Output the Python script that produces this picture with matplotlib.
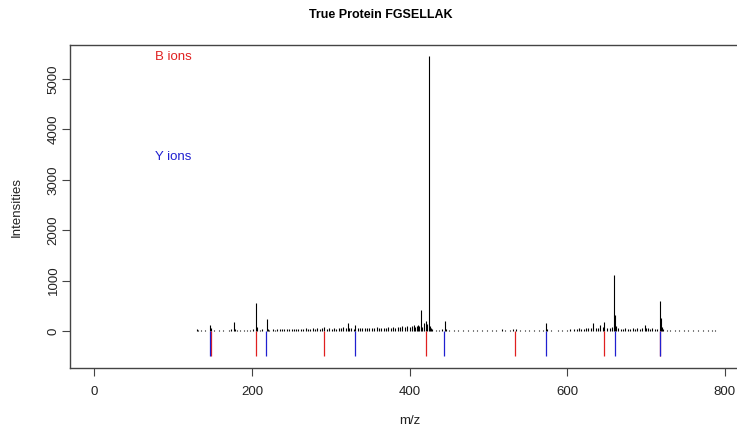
import matplotlib
matplotlib.use("Agg")
import matplotlib.pyplot as plt

plt.rcParams['font.family'] = ['Liberation Sans', 'DejaVu Sans']

# spectrum peaks (m/z, intensity)
mz = [130.1, 131.2, 136.0, 140.5, 147.1, 148.1, 152.3, 158.0, 163.2, 170.4,
      173.1, 177.1, 178.2, 181.0, 185.5, 190.3, 194.0, 197.2, 201.1, 205.1,
      206.1, 210.0, 213.2, 219.2, 220.2, 222.0, 226.3, 229.1, 232.0, 235.2,
      238.1, 241.0, 244.2, 247.1, 250.3, 253.0, 256.2, 259.1, 262.0, 265.3,
      268.1, 271.0, 274.2, 277.1, 280.0, 283.2, 286.1, 289.0, 292.1, 295.2,
      298.0, 301.1, 304.2, 307.0, 310.1, 313.2, 316.0, 319.1, 322.2, 323.1,
      326.0, 329.2, 331.2, 334.1, 337.0, 340.2, 343.1, 346.0, 349.2, 352.1,
      355.0, 358.2, 361.1, 364.0, 367.2, 370.1, 373.0, 376.2, 379.1, 382.0,
      385.2, 388.1, 391.0, 394.2, 397.1, 400.0, 403.2, 405.1, 407.0, 409.2,
      411.1, 412.2, 414.6, 416.1, 418.2, 420.3, 422.1, 424.5, 425.5, 427.0,
      429.1, 433.0, 437.2, 441.0, 444.7, 445.8, 450.0, 456.1, 462.0, 468.2,
      474.1, 480.0, 486.2, 492.1, 498.0, 504.2, 510.0, 517.1, 521.1, 527.0,
      531.2, 535.1, 540.0, 546.2, 552.1, 558.0, 564.2, 569.1, 573.3, 574.3,
      580.0, 588.2, 594.1, 600.0, 604.2, 608.1, 612.0, 615.2, 618.1, 621.0,
      624.2, 627.1, 630.0, 633.2, 636.1, 639.0, 642.2, 645.1, 647.3, 651.0,
      654.2, 657.1, 659.7, 660.7, 662.3, 665.0, 668.2, 671.1, 674.0, 677.2,
      680.1, 683.0, 686.2, 689.1, 692.0, 695.2, 699.0, 700.1, 702.2, 705.1,
      708.0, 711.2, 714.1, 717.6, 718.6, 720.3, 722.0, 726.2, 731.1, 737.0,
      742.2, 748.1, 754.0, 760.2, 766.1, 772.0, 778.2, 784.1, 788.0]
intensity = [35, 20, 8, 10, 110, 60, 12, 15, 10, 18,
             45, 180, 40, 12, 20, 15, 22, 12, 30, 560,
             70, 25, 30, 230, 40, 20, 30, 25, 35, 28,
             40, 30, 35, 45, 30, 40, 35, 45, 40, 35,
             50, 45, 40, 55, 40, 60, 45, 50, 70, 45,
             55, 40, 60, 45, 55, 50, 80, 60, 160, 60,
             50, 45, 120, 50, 55, 60, 50, 65, 55, 60,
             50, 70, 55, 60, 65, 55, 70, 60, 75, 65,
             80, 70, 90, 75, 100, 85, 90, 120, 80, 100,
             110, 90, 420, 80, 150, 200, 130, 5450, 90, 60,
             30, 20, 25, 30, 200, 40, 20, 25, 18, 25,
             20, 22, 18, 25, 15, 20, 20, 40, 18, 20,
             40, 30, 18, 20, 25, 15, 20, 18, 160, 40,
             15, 20, 18, 25, 30, 35, 40, 50, 45, 40,
             50, 55, 60, 150, 50, 60, 110, 70, 185, 60,
             50, 70, 1110, 320, 90, 50, 45, 40, 50, 40,
             45, 50, 45, 55, 40, 60, 120, 60, 50, 45,
             50, 40, 45, 600, 260, 80, 30, 25, 20, 22,
             18, 20, 15, 18, 15, 20, 15, 18, 15]

# theoretical fragment ions for FGSELLAK
b_ions = [148.08, 205.10, 292.13, 421.17, 534.26, 647.34, 718.38]
y_ions = [147.11, 218.15, 331.23, 444.31, 573.36, 660.39, 717.41]

W, H = 737, 434
fig = plt.figure(figsize=(W / 100, H / 100), dpi=100)
ax = fig.add_axes([70 / W, 1 - 368 / H, (745 - 70) / W, (368 - 44.5) / H])

ax.vlines(mz, 0, intensity, color='black', linewidth=0.8)
ax.vlines(b_ions, -500, 0, color='#e02020', linewidth=0.9)
ax.vlines(y_ions, -500, 0, color='#2020d0', linewidth=0.9)

ax.text(100, 5440, 'B ions', color='#e02020', fontsize=9.5, ha='center', va='center')
ax.text(100, 3450, 'Y ions', color='#2020d0', fontsize=9.5, ha='center', va='center')

ax.set_xlim(-30.8, 825.7)
ax.set_ylim(-738, 5688)
ax.set_xticks([0, 200, 400, 600, 800])
ax.set_yticks([0, 1000, 2000, 3000, 4000, 5000])
ax.tick_params(axis='both', direction='out', length=6, width=0.8,
               color='#444444', labelsize=9.5, labelcolor='#222222')
ax.tick_params(axis='x', pad=7)
ax.tick_params(axis='y', pad=1.5)
for lab in ax.get_yticklabels():
    lab.set_rotation(90)
    lab.set_va('center')
for sp in ax.spines.values():
    sp.set_color('#444444')
    sp.set_linewidth(1.0)

fig.text(381 / W, 1 - 15 / H, 'True Protein FGSELLAK', ha='center', va='center',
         fontsize=9, fontweight='bold')
fig.text(410 / W, 1 - 421 / H, 'm/z', ha='center', va='center', fontsize=9.5,
         color='#222222')
fig.text(17 / W, 1 - 207 / H, 'Intensities', ha='center', va='center',
         rotation=90, fontsize=9.5, color='#222222')

fig.savefig('out.png', dpi=100)
